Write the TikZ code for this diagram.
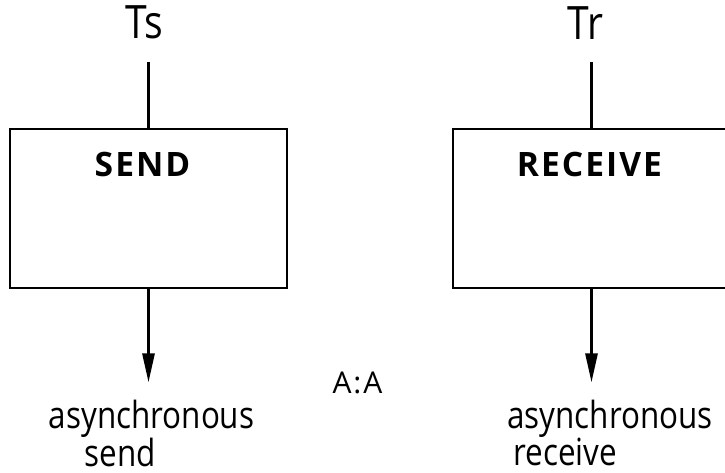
\documentclass[tikz,border=0pt]{standalone}
\usepackage{fontspec}
\setmainfont{Open Sans}
\newfontfamily\tagfont[FakeStretch=0.85]{Open Sans}
\newfontfamily\notefont[FakeStretch=0.84]{Open Sans}
\newfontfamily\titlefont[LetterSpace=6]{Open Sans}
\usepackage{tikz}
\usetikzlibrary{arrows.meta,positioning}

\begin{document}
\begin{tikzpicture}[
    x=1pt, y=-1pt,
    node distance=20pt,
    block/.style={rectangle, draw, line width=2.8pt, minimum width=277pt, minimum height=159pt, inner sep=0pt},
    title/.style={font=\titlefont\fontsize{33.6}{36}\selectfont\bfseries, inner sep=0pt},
    tag/.style={font=\tagfont\fontsize{46}{50}\selectfont, inner sep=0pt},
    note/.style={font=\notefont\fontsize{37.4}{37}\selectfont, align=left, inner sep=0pt},
    modetag/.style={font=\fontsize{30}{32}\selectfont, inner sep=0pt},
    wire/.style={line width=2.8pt},
    arrow/.style={line width=2.8pt, -{Triangle[length=29pt, width=12pt]}}
]
\useasboundingbox (0,0) rectangle (725,473);

% --- BOXES ---
\node (send)    [block] at (148.5,208.5) {};
\node (receive) [block, right=163.2pt of send] {};

\node (sendname)    [title, below=24pt of send.north, xshift=-6pt] {SEND};
\node (receivename) [title, below=24pt of receive.north, xshift=-2pt] {RECEIVE};

% --- THREADS ---
\node (ts) [tag, above=88pt of send.north, xshift=-4pt] {Ts};
\node (tr) [tag, above=88pt of receive.north, xshift=-6pt] {Tr};

\draw [wire, shorten >=22pt] (send.north) -- (send.north |- ts.south);
\draw [wire, shorten >=22pt] (receive.north) -- (receive.north |- tr.south);

% --- OUTPUTS ---
\coordinate [below=93pt of send.south] (sendend);
\coordinate [below=93pt of receive.south] (receiveend);

\draw [arrow] (send) -- (sendend);
\draw [arrow] (receive) -- (receiveend);

\node (sendnote)    [note, below=17pt of sendend, xshift=3pt] {asynchronous\\\hspace*{36pt}send};
\node (receivenote) [note, below=17pt of receiveend, xshift=18.5pt] {asynchronous\\\hspace*{6pt}receive};

\node (mode) [modetag] at (357.5,383) {A\kern2pt:\kern2pt A};

\end{tikzpicture}
\end{document}
